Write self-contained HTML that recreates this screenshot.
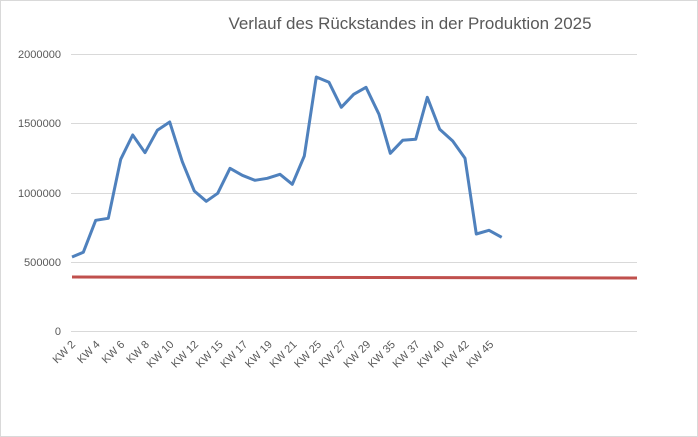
<!DOCTYPE html>
<html><head><meta charset="utf-8"><style>
html,body{margin:0;padding:0;background:#fff}
svg{display:block}
text{font-family:"Liberation Sans",sans-serif;fill:#595959}
</style></head><body>
<svg width="698" height="437" viewBox="0 0 698 437">
<rect x="0.5" y="0.5" width="697" height="436" fill="#fff" stroke="#d9d9d9"/>
<text x="410" y="29" font-size="17" text-anchor="middle" textLength="363" lengthAdjust="spacingAndGlyphs">Verlauf des Rückstandes in der Produktion 2025</text>
<g stroke="#d9d9d9" stroke-width="1">
<line x1="71" y1="54.5" x2="637" y2="54.5"/>
<line x1="71" y1="123.5" x2="637" y2="123.5"/>
<line x1="71" y1="193.5" x2="637" y2="193.5"/>
<line x1="71" y1="262.5" x2="637" y2="262.5"/>
<line x1="71" y1="331.5" x2="637" y2="331.5"/>
</g>
<g font-size="11" text-anchor="end">
<text x="61" y="58" textLength="43" lengthAdjust="spacingAndGlyphs">2000000</text>
<text x="61" y="127" textLength="43" lengthAdjust="spacingAndGlyphs">1500000</text>
<text x="61" y="197" textLength="43" lengthAdjust="spacingAndGlyphs">1000000</text>
<text x="61" y="266" textLength="37" lengthAdjust="spacingAndGlyphs">500000</text>
<text x="61" y="335">0</text>
</g>
<line x1="72" y1="277" x2="637" y2="278" stroke="#c0504d" stroke-width="3"/>
<polyline fill="none" stroke="#4f81bd" stroke-width="3" stroke-linejoin="round" points="72,257 83.3,252.3 95.7,220.3 108.3,218.3 120.7,159.3 132.7,135 145,152.7 157.3,130.3 169.7,122 182.3,161.7 194.3,191 206.3,201.3 217.7,193.3 230,168.3 242.3,175.3 255,180.3 267.3,178.3 280,174.3 292.3,184.3 304.3,156 316.3,77 329,82.3 341.3,107.3 353.7,94.3 366,87.3 379,114.3 390.3,153.3 402.7,140.3 415.7,139.3 427.3,97.3 439.7,129.3 452.7,141 465,158.3 476.3,234 489,230.3 501.7,237.3"/>
<g font-size="11" text-anchor="end">
<text transform="translate(76,345) rotate(-45)">KW 2</text>
<text transform="translate(100.6,345) rotate(-45)">KW 4</text>
<text transform="translate(125.2,345) rotate(-45)">KW 6</text>
<text transform="translate(149.8,345) rotate(-45)">KW 8</text>
<text transform="translate(174.4,345) rotate(-45)">KW 10</text>
<text transform="translate(199,345) rotate(-45)">KW 12</text>
<text transform="translate(223.6,345) rotate(-45)">KW 15</text>
<text transform="translate(248.2,345) rotate(-45)">KW 17</text>
<text transform="translate(272.8,345) rotate(-45)">KW 19</text>
<text transform="translate(297.4,345) rotate(-45)">KW 21</text>
<text transform="translate(322,345) rotate(-45)">KW 25</text>
<text transform="translate(346.6,345) rotate(-45)">KW 27</text>
<text transform="translate(371.2,345) rotate(-45)">KW 29</text>
<text transform="translate(395.8,345) rotate(-45)">KW 35</text>
<text transform="translate(420.4,345) rotate(-45)">KW 37</text>
<text transform="translate(445,345) rotate(-45)">KW 40</text>
<text transform="translate(469.6,345) rotate(-45)">KW 42</text>
<text transform="translate(494.2,345) rotate(-45)">KW 45</text>
</g>
</svg>
</body></html>
